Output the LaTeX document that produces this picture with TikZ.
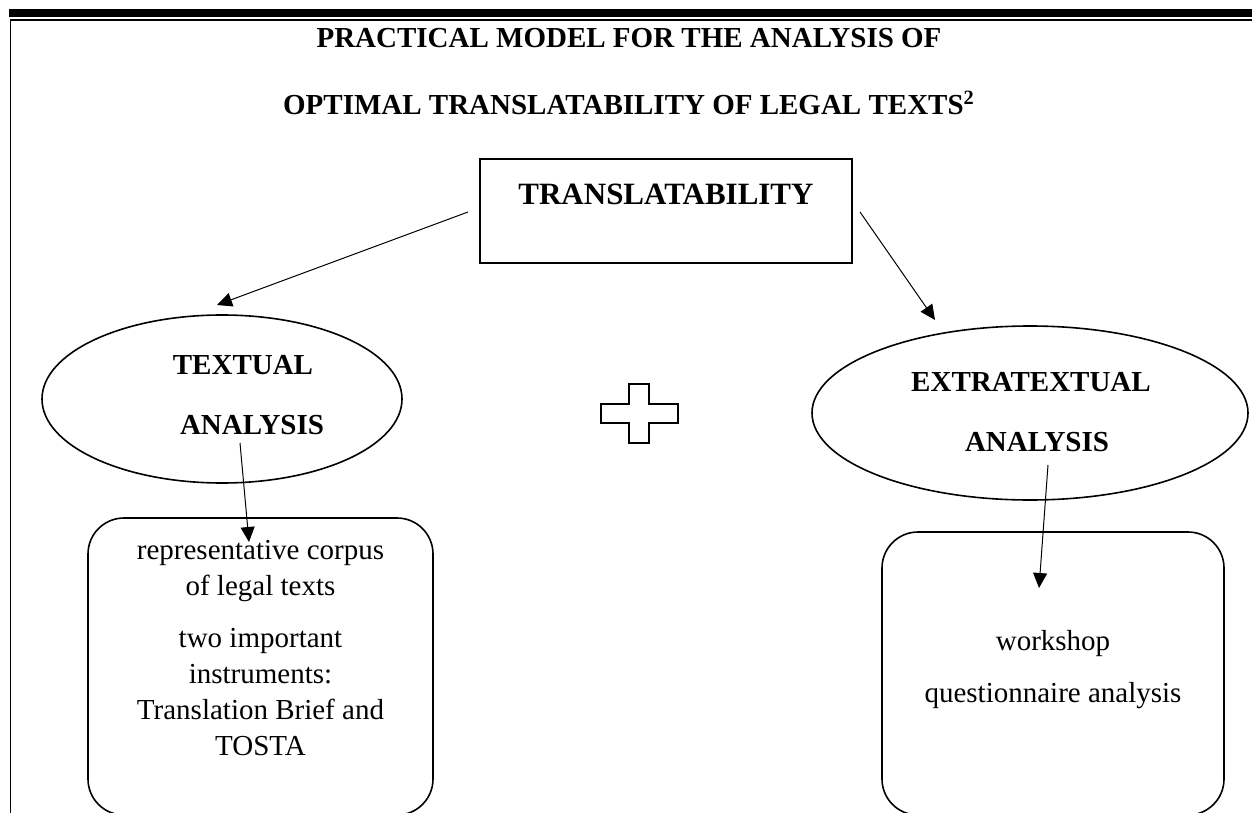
\documentclass[tikz,border=0pt]{standalone}
\usepackage{fontspec}
\setmainfont{Liberation Serif}
\usetikzlibrary{arrows.meta, positioning, shapes.geometric}

\begin{document}
\begin{tikzpicture}[x=0.5pt, y=-0.5pt,
      every node/.style = {inner sep=0pt, outer sep=0pt},
      title/.style = {font=\fontsize{14.5}{17}\selectfont\bfseries},
      oval/.style  = {ellipse, draw, line width=0.8pt},
      roundbox/.style = {draw, rounded corners=18pt, line width=0.8pt},
      body/.style  = {font=\fontsize{14.5}{18}\selectfont, align=center},
      link/.style  = {-{Triangle[length=7.5pt, width=7pt]}, line width=0.5pt}]
  \useasboundingbox (0,0) rectangle (1252,813);
  \clip (0,0) rectangle (1252,813);
  % page frame
  \fill (9,9) rectangle (1252,17);
  \draw[line width=0.8pt] (10,20) -- (1252,20);
  \draw[line width=0.8pt] (10.5,20) -- (10.5,813);
  % heading
  \node[title] (head1) at (629,38) {PRACTICAL MODEL FOR THE ANALYSIS OF};
  \node[title] (head2) at (629,103) {OPTIMAL TRANSLATABILITY OF LEGAL TEXTS\textsuperscript{2}};
  % top box
  \node[draw, line width=0.8pt, minimum width=186pt, minimum height=52pt] (trans) at (666,211) {};
  \node[font=\fontsize{15.5}{18}\selectfont\bfseries] (transtxt) at (666,194) {TRANSLATABILITY};
  % the two analyses
  \node[oval, minimum width=180pt, minimum height=84pt] (textual) at (222,399) {};
  \node[title] (textual1) at (243,365) {TEXTUAL};
  \node[title] (textual2) at (252,425) {ANALYSIS};
  \node[oval, minimum width=218pt, minimum height=87pt] (extra) at (1030,413) {};
  \node[title] (extra1) at (1031,382) {EXTRATEXTUAL};
  \node[title] (extra2) at (1037,442) {ANALYSIS};
  % plus sign
  \draw[line width=1pt] (629,384) -- (649,384) -- (649,404) -- (678,404) -- (678,423)
    -- (649,423) -- (649,443) -- (629,443) -- (629,423) -- (601,423) -- (601,404)
    -- (629,404) -- cycle;
  % lower boxes
  \node[roundbox, minimum width=172.5pt, minimum height=148.5pt] (corpus) at (260.5,666.5) {};
  \node[body, anchor=north] (corpustxt) at (260.5,540) {representative corpus\\of legal texts\\[8pt]
    two important\\instruments:\\Translation Brief and\\TOSTA};
  \node[roundbox, minimum width=171pt, minimum height=141.5pt] (survey) at (1053,673.5) {};
  \node[body, anchor=north] (surveytxt) at (1053,630) {workshop\\[8pt]questionnaire analysis};
  % connectors
  \coordinate (tl) at (468,212);
  \coordinate (tr) at (860,212);
  \coordinate (tlend) at (240,443);
  \coordinate (trend) at (1048,465);
  \draw[link] (tl) -- (217,305);
  \draw[link] (tr) -- (935,320);
  \draw[link] (tlend) -- (249,542);
  \draw[link] (trend) -- (1039,588);
\end{tikzpicture}
\end{document}
